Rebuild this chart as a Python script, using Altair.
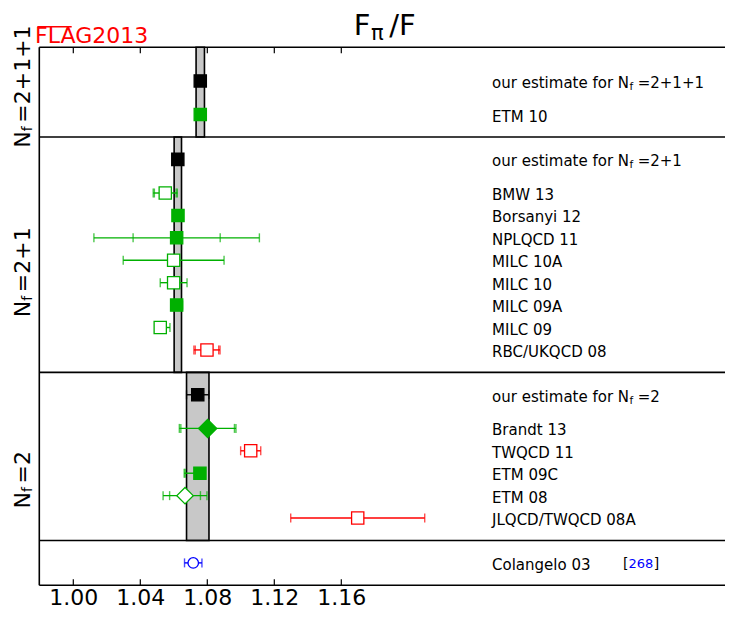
import altair as alt
import pandas as pd

# ---------------- data ----------------
names = ["our estimate for N_f=2+1+1", "ETM 10",
         "our estimate for N_f=2+1", "BMW 13", "Borsanyi 12", "NPLQCD 11",
         "MILC 10A", "MILC 10", "MILC 09A", "MILC 09", "RBC/UKQCD 08",
         "our estimate for N_f=2", "Brandt 13", "TWQCD 11", "ETM 09C", "ETM 08",
         "JLQCD/TWQCD 08A", "Colangelo 03"]
rows = [22.5, 21, 19, 17.5, 16.5, 15.5, 14.5, 13.5, 12.5, 11.5, 10.5,
        8.5, 7, 6, 5, 4, 3, 1]
values = [1.0758, 1.0758, 1.0624, 1.0549, 1.0625, 1.0617, 1.0599, 1.0599,
          1.0617, 1.0519, 1.0798, 1.0743, 1.0802, 1.1059, 1.0756, 1.0667,
          1.1698, 1.0716]
stat_lo = [0, 0.002, 0, 0.0065, 0.0015, 0.026, 0.003, 0.002, 0.001, 0.002, 0.007,
           0, 0.016, 0.006, 0.0088, 0.0092, 0.040, 0.0052]
stat_hi = [0, 0.002, 0, 0.0065, 0.0015, 0.026, 0.003, 0.002, 0.001, 0.002, 0.007,
           0, 0.016, 0.006, 0.001, 0.0092, 0.040, 0.0052]
tot_lo = [0.0025, 0.0028, 0.0022, 0.0072, 0.0025, 0.0494, 0.0301, 0.008, 0.0035,
          0.0032, 0.0078, 0.0067, 0.0169, 0.006, 0.0094, 0.0131, 0.040, 0.0052]
tot_hi = [0.0025, 0.0028, 0.0022, 0.0072, 0.0025, 0.0494, 0.0301, 0.008, 0.0035,
          0.0058, 0.0078, 0.0067, 0.0169, 0.006, 0.001, 0.0131, 0.040, 0.0052]
colour_keys = ["black", "green", "black", "green", "green", "green", "green", "green",
               "green", "green", "red", "black", "green", "red", "green", "green",
               "red", "blue"]
filled = [1, 1, 1, 0, 1, 1, 0, 0, 1, 0, 0, 1, 1, 0, 1, 0, 0, 0]
shapes = ["square"] * 12 + ["diamond", "square", "square", "diamond", "square", "circle"]
sizes = [150] * 12 + [330, 150, 150, 270, 150, 110]
refs = [""] * 17 + ["268"]

# FLAG averages (bands) per N_f section
band_names = ["2+1+1", "2+1", "2"]
band_center = [1.0758, 1.0624, 1.0743]
band_half = [0.0025, 0.0022, 0.0067]
band_y_lo = [20, 9.5, 2]
band_y_hi = [24, 20, 9.5]

section_start = [19.52, 11.96, 3.43]
separators = [0, 2, 9.5, 20, 24]
tick_values = [1.00, 1.04, 1.08, 1.12, 1.16]

palette = {"black": "#000000", "green": "#00b000", "red": "#ff0000", "blue": "#0000ff"}

# annotation anchors (data units)
LABEL_X = 1.25
SECTION_X = 0.97415
TITLE_X, TITLE_Y = 1.16746, 24.549
LOGO_X, LOGO_Y = 0.97719, 24.205
LOGO_BAR = [0.97851, 0.99904, 24.919]

# ---------------- layout ----------------
W, H = 685.7, 538
FONT = "DejaVu Sans"
xs = alt.Scale(domain=[0.9797, 1.38907], nice=False, zero=False)
ys = alt.Scale(domain=[0, 24], nice=False, zero=False)
XAX = alt.Axis(values=tick_values, format=".2f", labelFontSize=22, labelFont=FONT,
               labelColor="black", labelPadding=2, ticks=False, domain=False,
               grid=False, title=None, labelFlush=False)


def X(f):
    return alt.X(f"{f}:Q", scale=xs, axis=XAX)


def X2(f):
    return alt.X2(f"{f}:Q")


def Y(f):
    return alt.Y(f"{f}:Q", scale=ys, axis=None)


def split(n):
    if "_f" in n:
        a, b = n.split("_f")
        return a, "f", b
    return n, "", ""


parts = [split(n) for n in names]
df = pd.DataFrame({
    "name": names, "row": rows, "value": values,
    "x_lo": [v - e for v, e in zip(values, tot_lo)],
    "x_hi": [v + e for v, e in zip(values, tot_hi)],
    "hex": [palette[c] for c in colour_keys],
    "fillhex": [palette[c] if f else "#ffffff" for c, f in zip(colour_keys, filled)],
    "shape": shapes, "size": sizes,
    "prefix": [p[0] for p in parts], "sub": [p[1] for p in parts],
    "suffix": [p[2] for p in parts], "ref": refs,
    "lx": [LABEL_X] * len(names),
})

cap_rows = []
for i in range(len(names)):
    for x in {values[i] - tot_lo[i], values[i] + tot_hi[i],
              values[i] - stat_lo[i], values[i] + stat_hi[i]}:
        if abs(x - values[i]) > 1e-9:
            cap_rows.append({"x": x, "row": rows[i], "hex": df.hex[i]})
caps_df = pd.DataFrame(cap_rows)

bands_df = pd.DataFrame({
    "name": band_names,
    "lo": [c - h for c, h in zip(band_center, band_half)],
    "hi": [c + h for c, h in zip(band_center, band_half)],
    "y_lo": band_y_lo, "y_hi": band_y_hi,
})
sep_df = pd.DataFrame({"y": separators})
ticks_df = pd.DataFrame({
    "x": tick_values * 2,
    "y": [0] * 5 + [24] * 5,
    "y2": [0.268] * 5 + [23.732] * 5,
})
sec_df = pd.DataFrame({"suffix": ["=" + s for s in band_names],
                       "y": section_start, "x": [SECTION_X] * 3})
title_df = pd.DataFrame({"x": [TITLE_X], "y": [TITLE_Y]})
logo_df = pd.DataFrame({"x": [LOGO_X], "y": [LOGO_Y]})
bar_df = pd.DataFrame({"x": [LOGO_BAR[0]], "x2": [LOGO_BAR[1]], "y": [LOGO_BAR[2]]})

# ---------------- layers ----------------
bands = alt.Chart(bands_df).mark_rect(fill="#c8c8c8", stroke="black", strokeWidth=1.6).encode(
    x=X("lo"), x2=X2("hi"), y=Y("y_lo"), y2=alt.Y2("y_hi:Q"))

seps = alt.Chart(sep_df).mark_rule(color="black", strokeWidth=1.6).encode(
    y=Y("y"), x=alt.value(0), x2=alt.value(W))

left_border = alt.Chart(sep_df.head(1)).mark_rule(color="black", strokeWidth=1.6).encode(
    x=alt.value(0), y=alt.value(0), y2=alt.value(H))

ticks = alt.Chart(ticks_df).mark_rule(color="black", strokeWidth=1.2).encode(
    x=X("x"), y=Y("y"), y2=alt.Y2("y2:Q"))

err = alt.Chart(df).mark_rule(strokeWidth=1.4).encode(
    x=X("x_lo"), x2=X2("x_hi"), y=Y("row"), color=alt.Color("hex:N", scale=None))

caps = alt.Chart(caps_df).mark_tick(orient="vertical", size=9, thickness=1.4).encode(
    x=X("x"), y=Y("row"), color=alt.Color("hex:N", scale=None))

markers = alt.Chart(df).mark_point(filled=True, opacity=1, strokeWidth=1.3).encode(
    x=X("value"), y=Y("row"),
    shape=alt.Shape("shape:N", scale=None),
    size=alt.Size("size:Q", scale=None),
    fill=alt.Fill("fillhex:N", scale=None),
    stroke=alt.Stroke("hex:N", scale=None))

txt_kw = dict(align="left", baseline="alphabetic", font=FONT, color="black")
lab_main = alt.Chart(df).mark_text(dy=7, fontSize=15, **txt_kw).encode(
    x=X("lx"), y=Y("row"), text="prefix:N")
lab_sub = alt.Chart(df).transform_filter("datum.sub != ''").mark_text(
    dx=137.5, dy=9, fontSize=10.5, **txt_kw).encode(x=X("lx"), y=Y("row"), text="sub:N")
lab_suf = alt.Chart(df).transform_filter("datum.suffix != ''").mark_text(
    dx=145.6, dy=7, fontSize=15, **txt_kw).encode(x=X("lx"), y=Y("row"), text="suffix:N")

refdf = alt.Chart(df).transform_filter("datum.ref != ''")
ref_open = refdf.mark_text(dx=131, dy=5, fontSize=14, text="[", **txt_kw).encode(
    x=X("lx"), y=Y("row"))
ref_num = refdf.mark_text(dx=136.5, dy=5, fontSize=13, align="left", baseline="alphabetic",
                          font=FONT, color="#0000ff").encode(
    x=X("lx"), y=Y("row"), text="ref:N")
ref_close = refdf.mark_text(dx=161.8, dy=5, fontSize=14, text="]", **txt_kw).encode(
    x=X("lx"), y=Y("row"))

rot_kw = dict(angle=270, align="left", baseline="alphabetic", font=FONT, color="black")
sec_n = alt.Chart(sec_df).mark_text(fontSize=22, text="N", **rot_kw).encode(
    x=X("x"), y=Y("y"))
sec_f = alt.Chart(sec_df).mark_text(fontSize=14, text="f", dx=16.5, dy=2, **rot_kw).encode(
    x=X("x"), y=Y("y"))
sec_s = alt.Chart(sec_df).mark_text(fontSize=22, dx=25, **rot_kw).encode(
    x=X("x"), y=Y("y"), text="suffix:N")

t_kw = dict(align="left", baseline="alphabetic", font=FONT, color="black")
title_f = alt.Chart(title_df).mark_text(fontSize=29, text="F", **t_kw).encode(x=X("x"), y=Y("y"))
title_pi = alt.Chart(title_df).mark_text(fontSize=21, text="π", dx=17.3, dy=5.5, **t_kw).encode(
    x=X("x"), y=Y("y"))
title_rest = alt.Chart(title_df).mark_text(fontSize=29, text="/F", dx=35.5, **t_kw).encode(
    x=X("x"), y=Y("y"))

logo = alt.Chart(logo_df).mark_text(fontSize=22, text="FLAG2013", align="left",
                                    baseline="alphabetic", font=FONT, color="#ff0000").encode(
    x=X("x"), y=Y("y"))
logo_bar = alt.Chart(bar_df).mark_rule(color="#ff0000", strokeWidth=1.6).encode(
    x=X("x"), x2=X2("x2"), y=Y("y"))

chart = alt.layer(
    bands, seps, left_border, ticks, err, caps, markers,
    lab_main, lab_sub, lab_suf, ref_open, ref_num, ref_close,
    sec_n, sec_f, sec_s, title_f, title_pi, title_rest, logo, logo_bar,
).properties(
    width=W, height=H,
    autosize=alt.AutoSizeParams(type="none"),
    padding={"left": 31.3, "top": 39.3, "right": 0, "bottom": 25.7},
    background="white",
).configure_view(stroke=None)

chart.save("out.html", embed_options={"renderer": "svg", "actions": False})
